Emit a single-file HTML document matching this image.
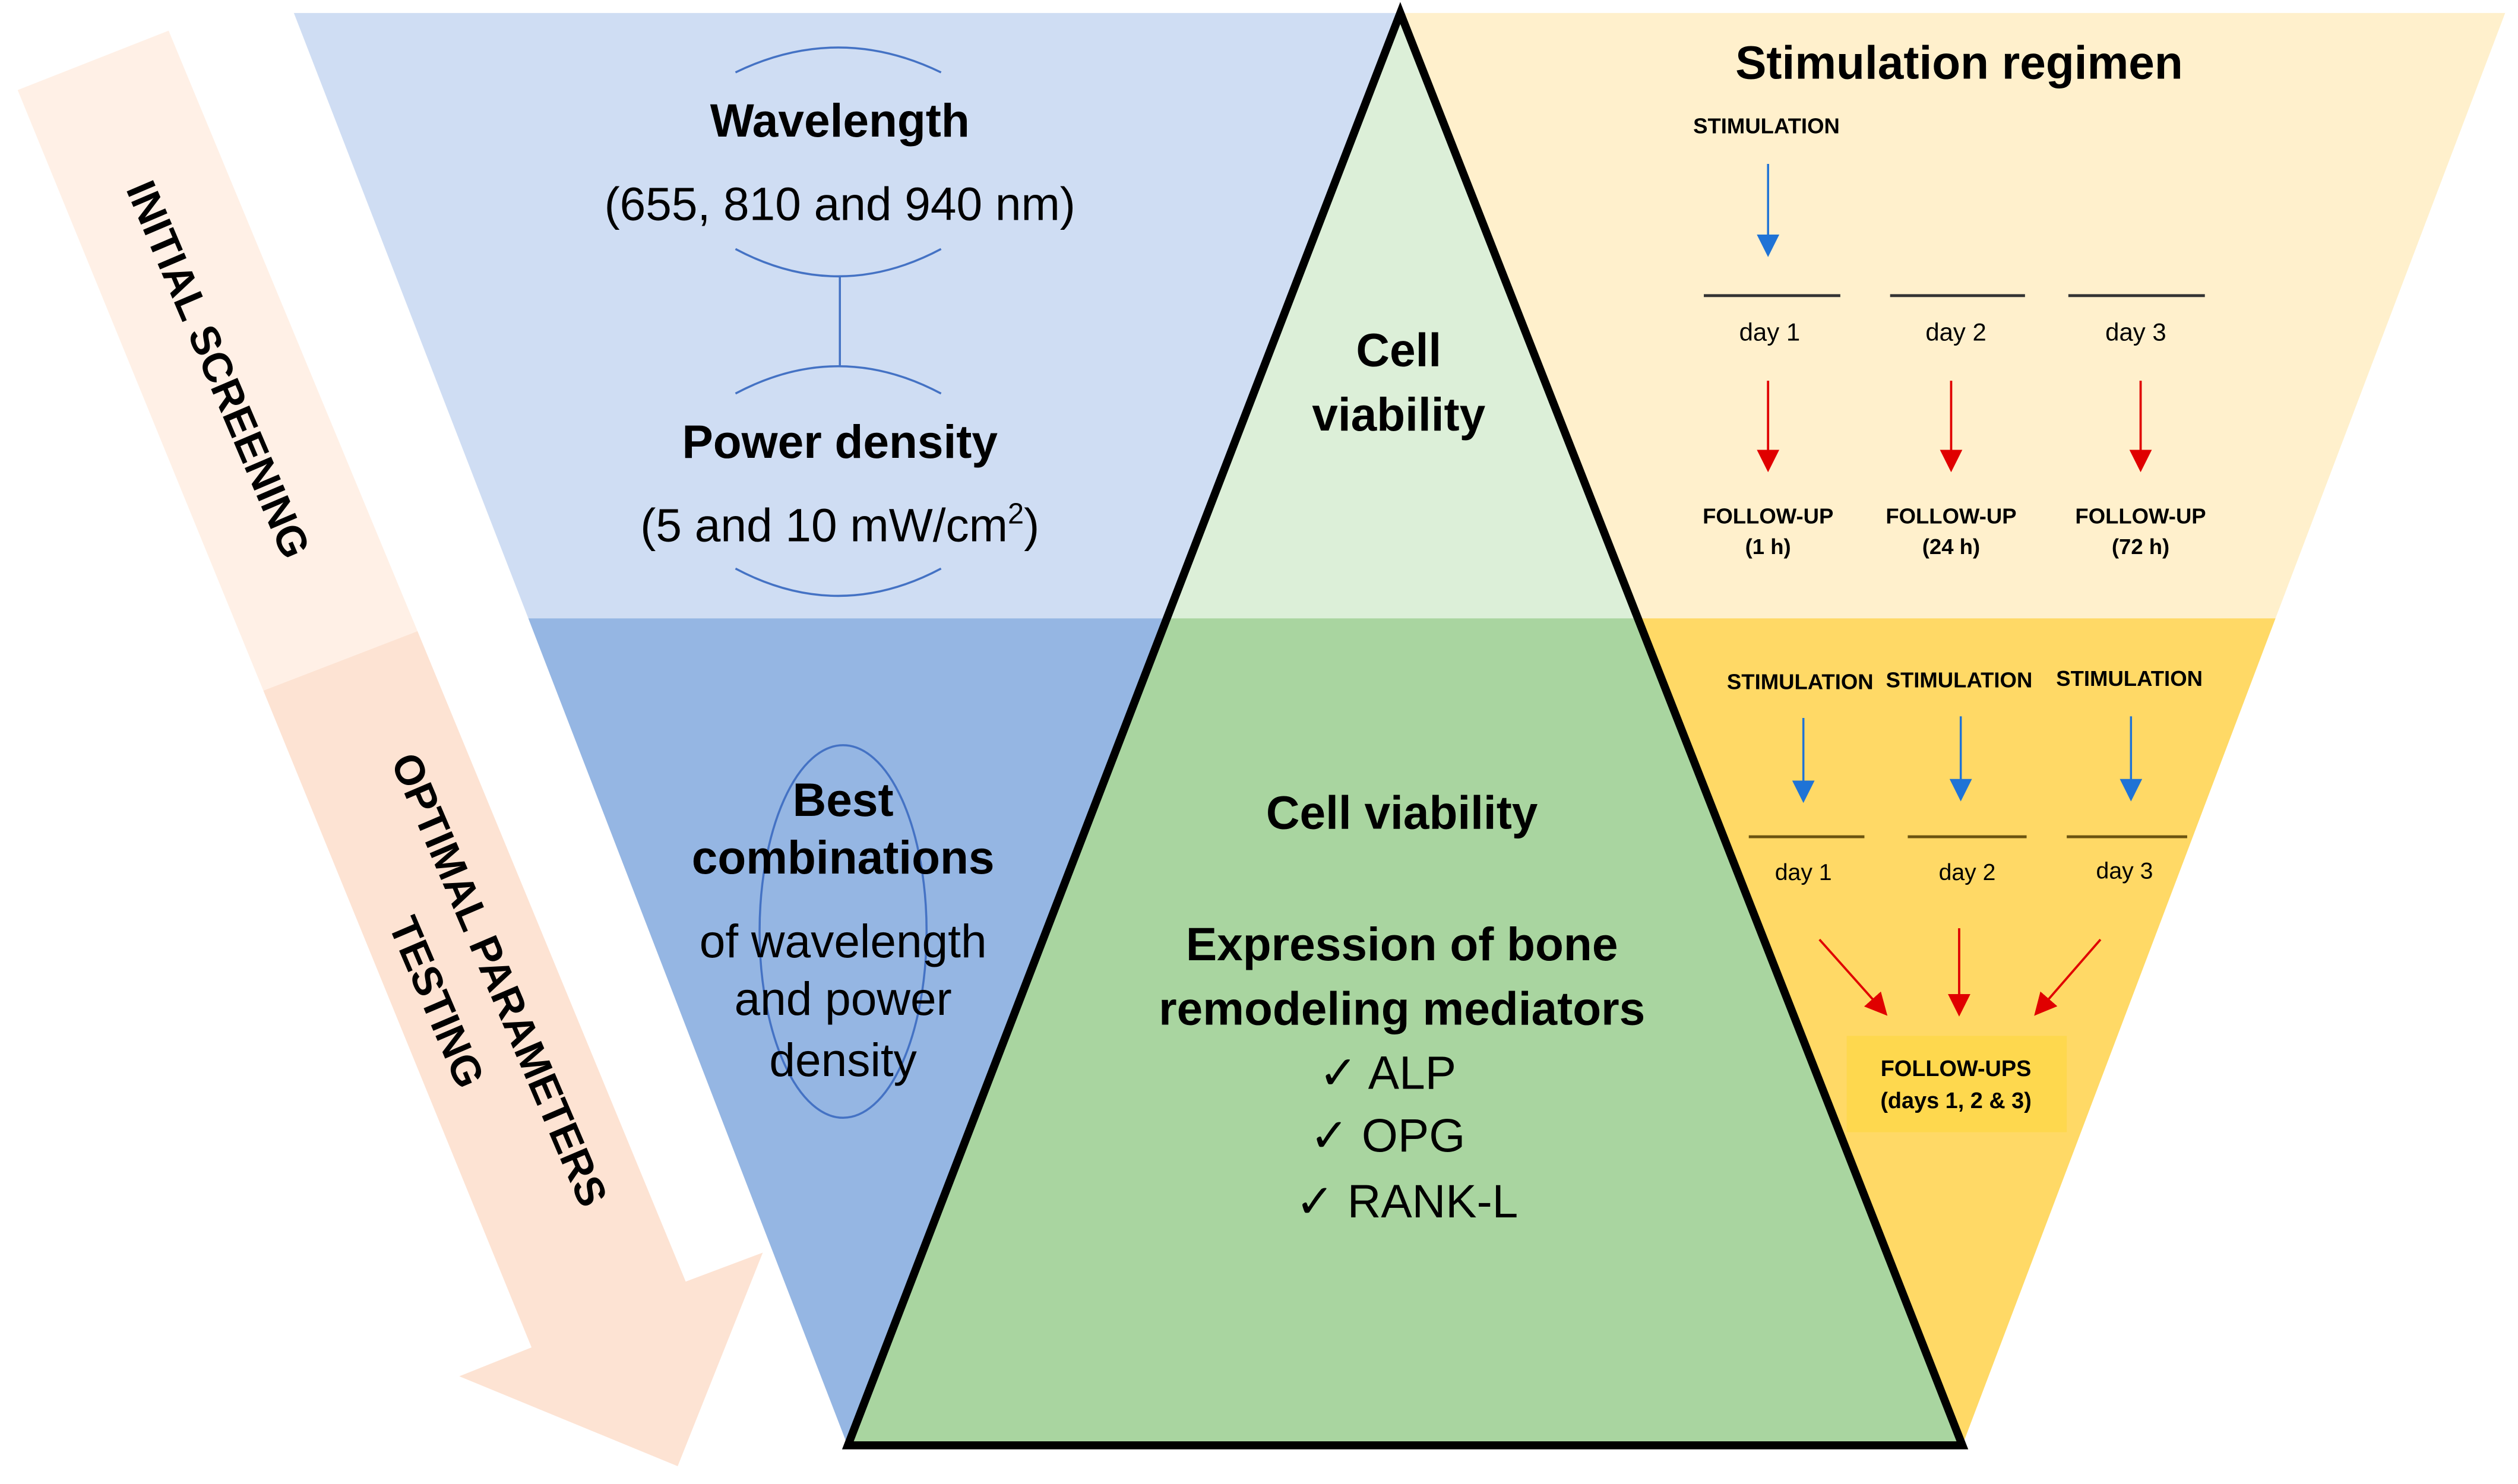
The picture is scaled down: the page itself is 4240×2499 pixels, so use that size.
<!DOCTYPE html>
<html><head><meta charset="utf-8"><style>
html,body{margin:0;padding:0;background:#fff}
svg{display:block}
text{font-family:"Liberation Sans",sans-serif;fill:#000}
.b{font-weight:bold}
</style></head><body>
<svg width="4240" height="2499" viewBox="0 0 1568 924" xmlns="http://www.w3.org/2000/svg">
<defs>
<marker id="ar" markerWidth="14" markerHeight="14" refX="12" refY="7" orient="auto" markerUnits="userSpaceOnUse"><path d="M0,0 L14,7 L0,14 z" fill="#e00000"/></marker>
<marker id="abl" markerWidth="14" markerHeight="14" refX="12" refY="7" orient="auto" markerUnits="userSpaceOnUse"><path d="M0,0 L14,7 L0,14 z" fill="#1f73d6"/></marker>
</defs>
<!-- peach arrow -->
<polygon points="11,56 105,19 260,393 164,430" fill="#fff0e6"/>
<polygon points="164,430 260,393 427,798 475,780 422,913 286,857 331,839" fill="#fde3d3"/>
<!-- inverted trapezoid regions -->
<polygon points="183,8 872,8 727,385 329,385" fill="#cfddf3"/>
<polygon points="329,385 727,385 528,900 527,898" fill="#95b6e3"/>
<polygon points="872,8 1560,8 1417,385 1020,385" fill="#fff0cc"/>
<polygon points="1020,385 1417,385 1222,900" fill="#ffd966"/>
<polygon points="872,8 1020,385 727,385" fill="#dcefd8"/>
<polygon points="727,385 1020,385 1222,900 528,900" fill="#a9d5a0"/>
<polygon points="872,8 1222,900 528,900" fill="none" stroke="#000" stroke-width="5" stroke-linejoin="miter"/>
<!-- arrow labels -->
<text class="b" font-size="26" text-anchor="middle" transform="translate(136,230) rotate(66.9)" dy="9">INITIAL SCREENING</text>
<text class="b" font-size="26" text-anchor="middle" transform="translate(311,610) rotate(66.9)" dy="9">OPTIMAL PARAMETERS</text>
<text class="b" font-size="26" text-anchor="middle" transform="translate(272,624) rotate(66.9)" dy="9">TESTING</text>
<!-- left top -->
<g fill="none" stroke="#4472c4" stroke-width="1.3">
<path d="M458,45 Q522,14 586,45"/>
<path d="M458,155 Q522,189 586,155"/>
<line x1="523" y1="172" x2="523" y2="228"/>
<path d="M458,245 Q522,211 586,245"/>
<path d="M458,354 Q522,388 586,354"/>
<ellipse cx="525" cy="580" rx="52" ry="116"/>
</g>
<g font-size="29" text-anchor="middle">
<text class="b" x="523" y="85">Wavelength</text>
<text x="523" y="137">(655, 810 and 940 nm)</text>
<text class="b" x="523" y="285">Power density</text>
<text x="523" y="337">(5 and 10 mW/cm<tspan font-size="18" dy="-11">2</tspan><tspan dy="11">)</tspan></text>
<text class="b" x="525" y="508">Best</text>
<text class="b" x="525" y="544">combinations</text>
<text x="525" y="596">of wavelength</text>
<text x="525" y="632">and power</text>
<text x="525" y="670">density</text>
<text class="b" x="871" y="228">Cell</text>
<text class="b" x="871" y="268">viability</text>
<text class="b" x="873" y="516">Cell viability</text>
<text class="b" x="873" y="598">Expression of bone</text>
<text class="b" x="873" y="638">remodeling mediators</text>
<text x="864" y="678">✓ ALP</text>
<text x="864" y="717">✓ OPG</text>
<text x="876" y="758">✓ RANK-L</text>
</g>
<!-- right top -->
<text class="b" x="1220" y="49" font-size="29" text-anchor="middle">Stimulation regimen</text>
<g font-size="13.5" text-anchor="middle">
<text class="b" x="1100" y="83">STIMULATION</text>
<text class="b" x="1101" y="326">FOLLOW-UP</text>
<text class="b" x="1101" y="345">(1 h)</text>
<text class="b" x="1215" y="326">FOLLOW-UP</text>
<text class="b" x="1215" y="345">(24 h)</text>
<text class="b" x="1333" y="326">FOLLOW-UP</text>
<text class="b" x="1333" y="345">(72 h)</text>
<text class="b" x="1121" y="429">STIMULATION</text>
<text class="b" x="1220" y="428">STIMULATION</text>
<text class="b" x="1326" y="427">STIMULATION</text>
</g>
<g font-size="15.5" text-anchor="middle">
<text x="1102" y="212">day 1</text>
<text x="1218" y="212">day 2</text>
<text x="1330" y="212">day 3</text>
<text x="1123" y="548" font-size="14.5">day 1</text>
<text x="1225" y="548" font-size="14.5">day 2</text>
<text x="1323" y="547" font-size="14.5">day 3</text>
</g>
<g stroke="#333" stroke-width="1.8">
<line x1="1061" y1="184" x2="1146" y2="184"/>
<line x1="1177" y1="184" x2="1261" y2="184"/>
<line x1="1288" y1="184" x2="1373" y2="184"/>
<line x1="1089" y1="521" x2="1161" y2="521" stroke="#6b5410"/>
<line x1="1188" y1="521" x2="1262" y2="521" stroke="#6b5410"/>
<line x1="1287" y1="521" x2="1362" y2="521" stroke="#6b5410"/>
</g>
<g stroke="#1f73d6" stroke-width="1.3" marker-end="url(#abl)">
<line x1="1101" y1="102" x2="1101" y2="158"/>
<line x1="1123" y1="447" x2="1123" y2="498"/>
<line x1="1221" y1="446" x2="1221" y2="497"/>
<line x1="1327" y1="446" x2="1327" y2="497"/>
</g>
<g stroke="#e00000" stroke-width="1.4" marker-end="url(#ar)">
<line x1="1101" y1="237" x2="1101" y2="292"/>
<line x1="1215" y1="237" x2="1215" y2="292"/>
<line x1="1333" y1="237" x2="1333" y2="292"/>
<line x1="1133" y1="585" x2="1174" y2="631"/>
<line x1="1220" y1="578" x2="1220" y2="631"/>
<line x1="1308" y1="585" x2="1268" y2="631"/>
</g>
<rect x="1150" y="645" width="137" height="60" fill="#fed84e"/>
<text class="b" x="1218" y="670" font-size="14" text-anchor="middle">FOLLOW-UPS</text>
<text class="b" x="1218" y="690" font-size="14" text-anchor="middle">(days 1, 2 &amp; 3)</text>
</svg>
</body></html>
